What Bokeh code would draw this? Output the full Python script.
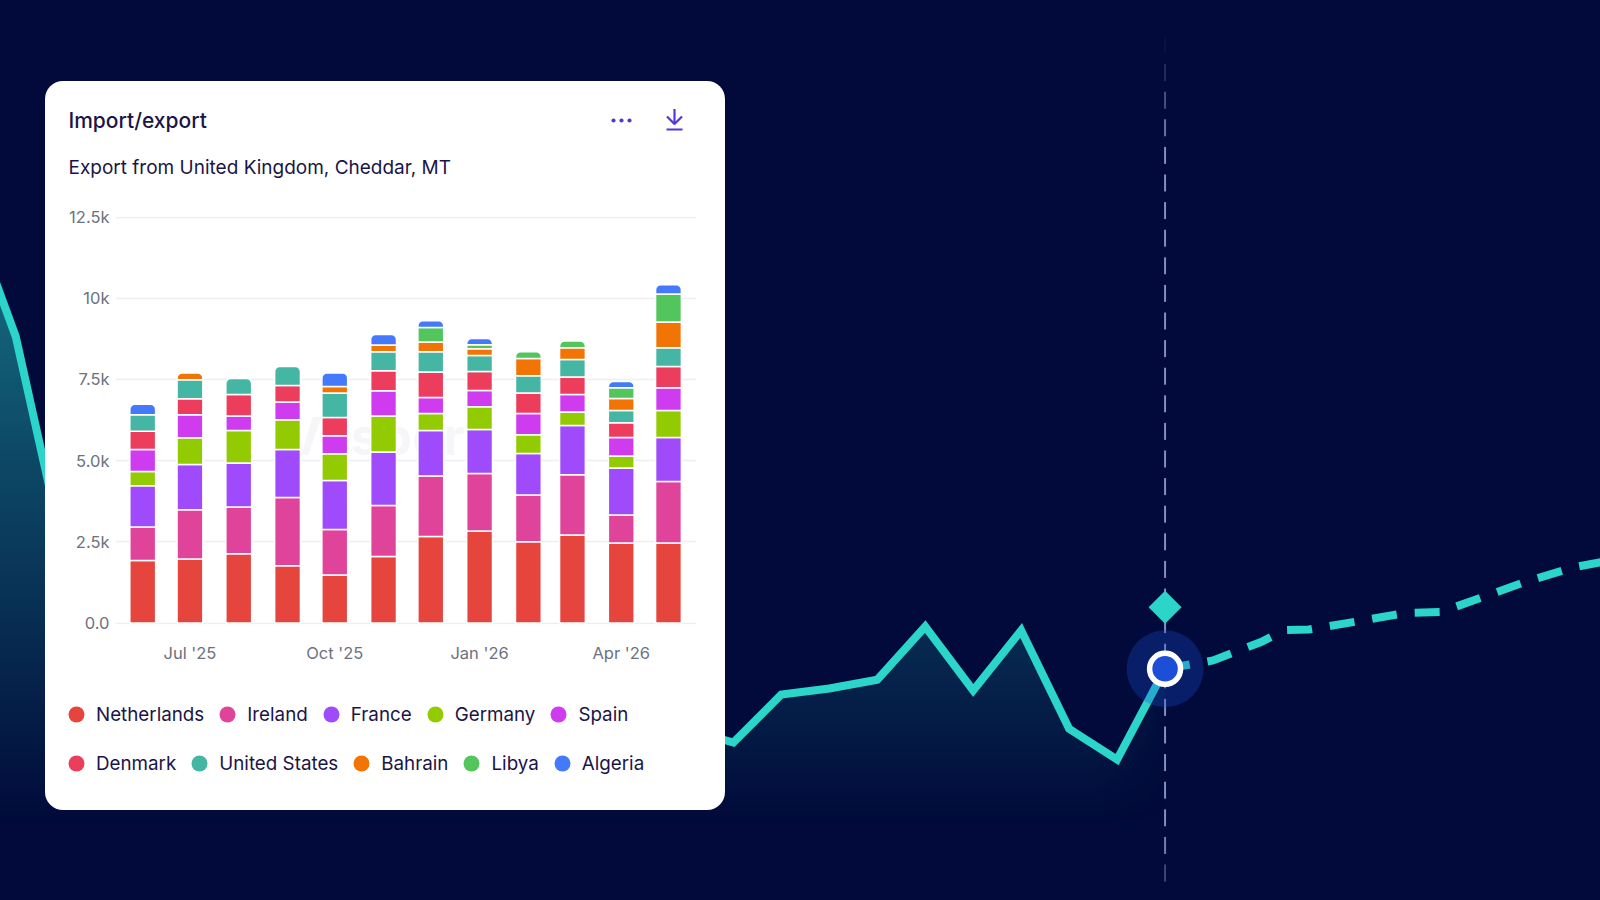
from datetime import datetime, timezone
import numpy as np
from bokeh.core.properties import value
from bokeh.embed import file_html
from bokeh.layouts import column
from bokeh.models import FixedTicker, Legend, LegendItem, Range1d
from bokeh.plotting import figure
from bokeh.resources import INLINE

FONT = "Inter"
PAGE_BG = "#010a3a"
TEAL = "#2bd5ca"
BLUE = "#1d4ed8"
INK = "#1a1547"
GREY = "#6b7280"
ICON = "#4f39d6"

# ---------- stacked bars: export from United Kingdom, Cheddar, MT ----------
months = ["2025-06", "2025-07", "2025-08", "2025-09", "2025-10", "2025-11",
          "2025-12", "2026-01", "2026-02", "2026-03", "2026-04", "2026-05"]
netherlands = [1929, 1970, 2135, 1765, 1478, 2053, 2668, 2833, 2504, 2709, 2463, 2463]
ireland = [1026, 1519, 1437, 2104, 1406, 1570, 1858, 1775, 1437, 1858, 862, 1899]
france = [1273, 1396, 1355, 1478, 1509, 1642, 1406, 1355, 1283, 1519, 1447, 1355]
germany = [441, 821, 1006, 913, 821, 1108, 523, 698, 575, 411, 369, 831]
spain = [677, 708, 441, 544, 554, 780, 493, 503, 657, 544, 575, 698]
denmark = [564, 493, 667, 513, 564, 616, 780, 585, 626, 534, 452, 657]
united_states = [503, 585, 493, 585, 749, 585, 626, 493, 534, 544, 380, 575]
bahrain = [0, 205, 0, 0, 205, 205, 298, 205, 534, 359, 369, 790]
libya = [0, 0, 0, 0, 0, 0, 452, 123, 205, 205, 328, 862]
algeria = [328, 0, 0, 0, 411, 328, 205, 195, 0, 0, 195, 287]

series_names = ["Netherlands", "Ireland", "France", "Germany", "Spain",
                "Denmark", "United States", "Bahrain", "Libya", "Algeria"]
series_values = [netherlands, ireland, france, germany, spain,
                 denmark, united_states, bahrain, libya, algeria]
series_colors = ["#e5453d", "#e0439a", "#9f4bfb", "#93cb03", "#cf3cf0",
                 "#ec3d5c", "#45b6a3", "#f27405", "#52c65d", "#4479fb"]

y_ticks = [0, 2500, 5000, 7500, 10000, 12500]
y_labels = ["0.0", "2.5k", "5.0k", "7.5k", "10k", "12.5k"]
x_tick_months = ["2025-07", "2025-10", "2026-01", "2026-04"]
x_labels = ["Jul '25", "Oct '25", "Jan '26", "Apr '26"]

# ---------- background line (arbitrary index, x in months from "now") ----------
hist_x = [-25, -23.96, -22.96, -9, -8, -7, -6, -5, -4, -3, -2, -1, 0]
hist_y = [700, 564, 349, 158, 206, 212, 220.7, 274, 210, 270, 171.7, 141, 231.7]
fcst_x = [0, 1, 2, 2.5, 3, 4, 5, 5.75, 7.5, 8.5, 9.1]
fcst_y = [231.7, 240, 258.5, 270.5, 271, 279, 287.5, 288.5, 318.5, 333, 338.5]
now_x = [0]
now_y = [231.7]
marker_y = [293.3]


def ms(ym):
    y, m = map(int, ym.split("-"))
    return datetime(y, m, 1, tzinfo=timezone.utc).timestamp() * 1000


DAY = 86400000.0
x_ms = [ms(m) for m in months]

# ---------- background figure (1px past the window on every side) ----------
bg = figure(width=1602, height=902, output_backend="svg", toolbar_location=None,
            x_range=Range1d((-1 - 1165.3) / 48, (1601 - 1165.3) / 48),
            y_range=Range1d(-1, 901), min_border=0, frame_align=False,
            background_fill_color=PAGE_BG, border_fill_color=PAGE_BG,
            outline_line_color=None, margin=(-1, 0, 0, -1))
bg.axis.visible = False
bg.grid.visible = False

gy = np.linspace(70, 700, 316)
gx = np.linspace(hist_x[0], 0, 400)
alpha = np.clip(0.00084 * (gy - 70), 0, 1)[:, None] * np.clip(1 - 0.5 * (gx + 1.5), 0.25, 1)[None, :]
img = np.zeros((len(gy), len(gx)), dtype=np.uint32)
view = img.view(dtype=np.uint8).reshape((len(gy), len(gx), 4))
view[:, :, 0], view[:, :, 1], view[:, :, 2] = 0x2b, 0xd5, 0xca
view[:, :, 3] = (alpha * 255).astype(np.uint8)
bg.image_rgba(image=[img], x=[hist_x[0]], y=[70], dw=[-hist_x[0]], dh=[630])
bg.varea(x=hist_x, y1=hist_y, y2=[900] * len(hist_x), fill_color=PAGE_BG)

# fading crosshair dashes
dash_y0 = 900 - np.arange(36, 890, 27.6)
dash_y1 = dash_y0 - 17
page_y = 900 - dash_y0
fade = np.clip(np.minimum((page_y - 36) / 140, (895 - page_y) / 90), 0.05, 0.75)
bg.segment(x0=0, x1=0, y0=dash_y0, y1=dash_y1, line_color="#b3baf0", line_width=2,
           line_alpha=fade)

bg.line(hist_x, hist_y, line_color=TEAL, line_width=8, line_join="miter")
bg.line(fcst_x, fcst_y, line_color=TEAL, line_width=8, line_join="miter",
        line_cap="butt", line_dash="25 18")
bg.scatter(now_x, now_y, size=77, marker="circle", fill_color=BLUE, fill_alpha=0.3,
           line_color=None)
bg.scatter(now_x, marker_y, size=23.3, marker="square", angle=np.pi / 4,
           fill_color=TEAL, line_color=None)
bg.scatter(now_x, now_y, size=31, marker="circle", fill_color=BLUE,
           line_color="white", line_width=5.5)

# ---------- card figure: axes and bars ----------
CARD_L, CARD_T = 45, 81
CARD_W, CARD_H = 680, 729
p = figure(width=CARD_W, height=CARD_H, output_backend="svg", toolbar_location=None,
           x_axis_type="datetime",
           x_range=Range1d(x_ms[0] - 17.3 * DAY, x_ms[-1] + 17.8 * DAY),
           y_range=Range1d(-43, 12518),
           min_border_left=70, min_border_right=29, min_border_top=135, min_border_bottom=186,
           background_fill_color=None, border_fill_color=None, outline_line_color=None,
           frame_align=False,
           margin=(CARD_T - 901, 0, 0, CARD_L),
           styles={"background": "#ffffff", "border-radius": "18px"})

p.xgrid.visible = False
p.ygrid.ticker = FixedTicker(ticks=y_ticks)
p.ygrid.grid_line_color = "#eceef2"
p.ygrid.grid_line_width = 1.5
p.ygrid.level = "underlay"

p.yaxis.ticker = FixedTicker(ticks=y_ticks)
p.yaxis.major_label_overrides = dict(zip(y_ticks, y_labels))
p.xaxis.ticker = FixedTicker(ticks=[ms(m) for m in x_tick_months])
p.xaxis.major_label_overrides = {ms(m): t for m, t in zip(x_tick_months, x_labels)}
for ax in (p.xaxis[0], p.yaxis[0]):
    ax.axis_line_color = None
    ax.major_tick_line_color = None
    ax.minor_tick_line_color = None
    ax.major_label_text_font = FONT
    ax.major_label_text_font_size = "16.5px"
    ax.major_label_text_color = GREY
p.yaxis.major_label_standoff = 0
p.xaxis.major_label_standoff = 12

# faint watermark behind the bars
p.text(x=[ms("2025-11") - 6 * DAY], y=[5750], text=["Vesper"], text_font=value(FONT),
       text_font_size="52px", text_font_style="bold", text_color="#f6f6f8",
       text_align="center", text_baseline="middle", level="underlay")

vals = np.array(series_values, dtype=float)
tops = np.cumsum(vals, axis=0)
bottoms = tops - vals
last = vals.shape[0] - 1 - np.argmax(vals[::-1] > 0, axis=0)
BAR_W = 16.4 * DAY
for i, color in enumerate(series_colors):
    plain = [j for j in range(len(x_ms)) if vals[i, j] > 0 and last[j] != i]
    cap = [j for j in range(len(x_ms)) if vals[i, j] > 0 and last[j] == i]
    if plain:
        p.vbar(x=[x_ms[j] for j in plain], width=BAR_W, bottom=bottoms[i, plain], top=tops[i, plain],
               fill_color=color, line_color="white", line_width=1.5)
    if cap:
        p.vbar(x=[x_ms[j] for j in cap], width=BAR_W, bottom=bottoms[i, cap], top=tops[i, cap],
               fill_color=color, line_color="white", line_width=1.5,
               border_radius=(5, 5, 0, 0))

# ---------- overlay on the card: header, icons, legends (px from the card's top-left) ----------
ov = figure(width=CARD_W, height=CARD_H, output_backend="svg", toolbar_location=None,
            x_range=Range1d(0, CARD_W), y_range=Range1d(CARD_H, 0), min_border=0,
            background_fill_color=None, border_fill_color=None, outline_line_color=None,
            frame_align=False, margin=(-CARD_H, 0, 0, CARD_L))
ov.axis.visible = False
ov.grid.visible = False

ov.text(x=[23], y=[38.5], text=["Import/export"], text_font=value("Inter Medium"), text_font_size="21px",
        text_color=INK, text_baseline="middle")
ov.text(x=[23], y=[85.5], text=["Export from United Kingdom, Cheddar, MT"], text_font=value(FONT),
        text_font_size="19px", text_color=INK, text_baseline="middle")

ov.scatter(x=[568, 576, 584], y=[39, 39, 39], marker="circle", size=4.2, fill_color=ICON, line_color=None)
ov.multi_line(xs=[[629, 629], [621.5, 629, 636.5], [621, 637]], ys=[[27.5, 42.5], [35, 42.5, 35], [48, 48]],
              line_color=ICON, line_width=2.2)

swatches = [ov.scatter(x=[float("nan")], y=[float("nan")], marker="circle", fill_color=c,
                       line_color=None) for c in series_colors]


def legend_row(idx, y):
    lg = Legend(items=[LegendItem(label=value(series_names[i]), renderers=[swatches[i]]) for i in idx],
                orientation="horizontal", location=(11, y), glyph_width=40, glyph_height=42,
                label_standoff=0, spacing=3, padding=0, margin=0,
                background_fill_color=None, background_fill_alpha=0, border_line_color=None,
                label_text_font=FONT, label_text_font_size="18.8px", label_text_color=INK)
    ov.add_layout(lg, "center")


legend_row(range(0, 5), 75)
legend_row(range(5, 10), 26)

page = column(bg, p, ov, spacing=0)
html = file_html(page, INLINE)
html = html.replace("<body>", '<body style="background:%s;overflow:hidden">' % PAGE_BG, 1)
open("out.html", "w").write(html)
